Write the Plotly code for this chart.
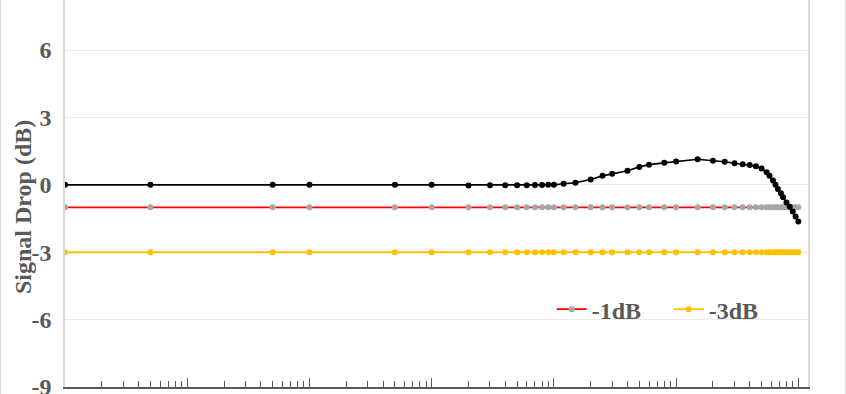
import plotly.graph_objects as go

# frequency points (log axis)
freq = [1, 5, 50, 100, 500, 1000, 2000, 3000, 4000, 5000, 6000, 7000, 8000, 9000,
        10000, 12000, 15000, 20000, 25000, 30000, 40000, 50000, 60000, 80000,
        100000, 150000, 200000, 250000, 300000, 350000, 400000, 450000, 500000,
        550000, 580000, 620000, 650000, 680000, 720000, 750000, 800000, 850000,
        900000, 950000, 1000000]

response = [0, 0, 0, 0, 0, 0, -0.03, -0.02, -0.02, -0.02, -0.02, -0.01, -0.01, 0,
            0, 0.05, 0.09, 0.24, 0.40, 0.49, 0.63, 0.80, 0.90, 0.98,
            1.04, 1.14, 1.07, 1.03, 0.96, 0.92, 0.88, 0.83, 0.73,
            0.56, 0.40, 0.19, 0.0, -0.19, -0.37, -0.55, -0.79, -0.97,
            -1.19, -1.41, -1.63]

minus1 = [-1] * len(freq)
minus3 = [-3] * len(freq)

y_ticks = [-9, -6, -3, 0, 3, 6, 9]
y_ticktext = ["-9", "-6", "-3", "0", "3", "6", "9"]
y_title = "Signal Drop (dB)"

W, H = 846, 394
ML, MR, MT, MB = 65, 38, 0, 7
FONT = "Liberation Serif"
GREY = "#595959"

fig = go.Figure()
fig.add_trace(go.Scatter(x=freq, y=minus1, name="-1dB", mode="lines+markers",
                         line=dict(color="#ff0000", width=1.8),
                         marker=dict(color="#a6a6a6", size=6)))
fig.add_trace(go.Scatter(x=freq, y=minus3, name="-3dB", mode="lines+markers",
                         line=dict(color="#ffc000", width=1.8),
                         marker=dict(color="#ffc000", size=6)))
fig.add_trace(go.Scatter(x=freq, y=response, name="Response", mode="lines+markers",
                         showlegend=False,
                         line=dict(color="#000000", width=1.6),
                         marker=dict(color="#000000", size=6)))

fig.update_layout(
    width=W, height=H,
    margin=dict(l=ML, r=MR, t=MT, b=MB, autoexpand=False),
    paper_bgcolor="white", plot_bgcolor="white",
    font=dict(family=FONT, size=24, color=GREY, weight="bold"),
    showlegend=True,
    legend=dict(orientation="h", x=0.655, xanchor="left", y=0.2, yanchor="middle",
                font=dict(family=FONT, size=24, color=GREY, weight="bold"),
                bgcolor="rgba(0,0,0,0)", entrywidth=72, entrywidthmode="pixels"),
    xaxis=dict(type="log", range=[0, 6.079], showgrid=False, zeroline=False,
               showline=True, linecolor=GREY, linewidth=1.5,
               ticks="inside", ticklen=9, tickcolor=GREY, tickwidth=1,
               dtick=1, showticklabels=False,
               minor=dict(ticks="inside", ticklen=6, tickcolor=GREY, tickwidth=1,
                          showgrid=False)),
    yaxis=dict(range=[-9, 8.23], tickvals=y_ticks, ticktext=y_ticktext, showgrid=True,
               gridcolor="#ebebeb", gridwidth=1, zeroline=False,
               showline=True, linecolor="#d9d9d9", linewidth=1.5, mirror=True,
               ticks="", ticklabelstandoff=7, ticklabeloverflow="allow",
               tickfont=dict(family=FONT, size=24, color=GREY, weight="bold")),
    annotations=[dict(text=y_title, textangle=-90, xref="paper", yref="paper",
                      x=(23 - ML) / (W - ML - MR), y=(H - MB - 207) / (H - MB - MT),
                      xanchor="center", yanchor="middle", showarrow=False,
                      font=dict(family=FONT, size=24, color=GREY, weight="bold"))],
    shapes=[
        dict(type="line", xref="paper", yref="paper",
             x0=(0.5 - ML) / (W - ML - MR), x1=(0.5 - ML) / (W - ML - MR), y0=-1, y1=2,
             line=dict(color="#d9d9d9", width=1)),
        dict(type="line", xref="paper", yref="paper",
             x0=(W - 0.5 - ML) / (W - ML - MR), x1=(W - 0.5 - ML) / (W - ML - MR), y0=-1, y1=2,
             line=dict(color="#d9d9d9", width=1)),
    ],
)

fig.write_html("out.html")
